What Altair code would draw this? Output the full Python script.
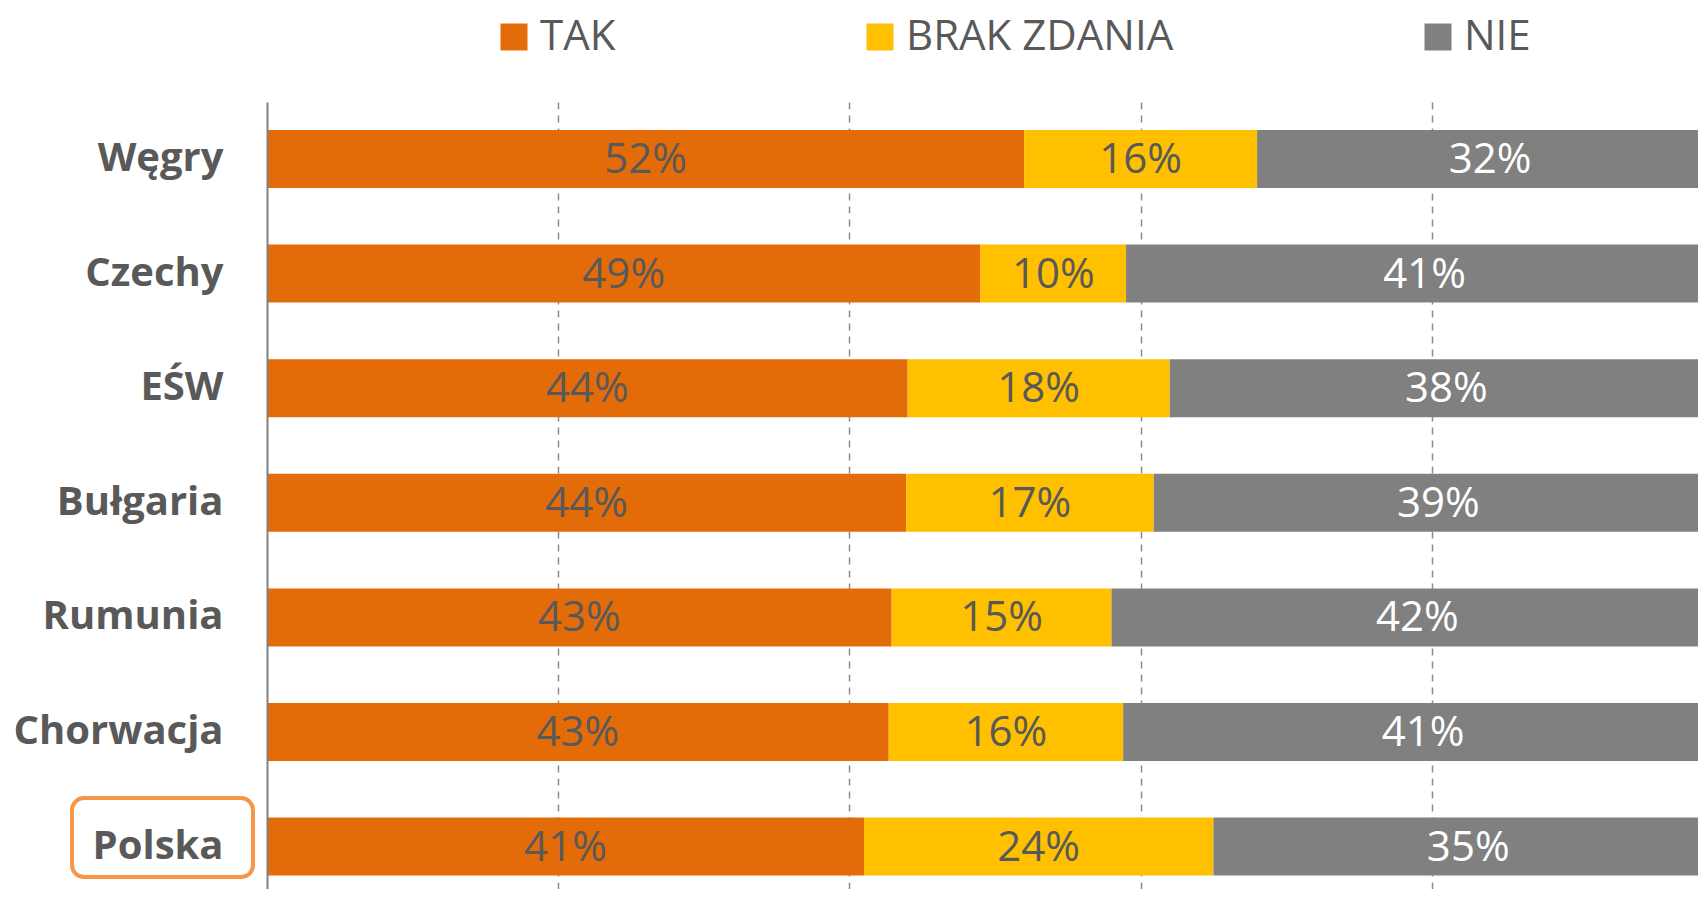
import altair as alt
import pandas as pd

countries = ["Węgry", "Czechy", "EŚW", "Bułgaria", "Rumunia", "Chorwacja", "Polska"]
categories = ["TAK", "BRAK ZDANIA", "NIE"]
tak = [52.0, 49.0, 44.0, 43.9, 42.9, 42.7, 41.0]
brak = [16.0, 10.0, 18.0, 17.0, 15.1, 16.1, 24.0]
nie = [32.0, 41.0, 38.0, 39.1, 42.0, 41.2, 35.0]
colors = ["#E36C09", "#FFC000", "#808080"]
highlight = "Polska"

rows = []
for i, c in enumerate(countries):
    start = 0
    for cat, vals in zip(categories, [tak, brak, nie]):
        v = vals[i]
        rows.append({"country": c, "category": cat, "value": v,
                     "start": start / 100, "end": (start + v) / 100,
                     "mid": (start + v / 2) / 100, "label": f"{round(v)}%",
                     "order": categories.index(cat)})
        start += v
df = pd.DataFrame(rows)

FONT = "Open Sans"
GRAY_TXT = "#595959"

xscale = alt.Scale(domain=[0, 0.9828], nice=False, zero=True)
yscale = alt.Scale(domain=countries, paddingInner=0.494, paddingOuter=0.1805, align=0.676)

y_enc = alt.Y("country:N", sort=countries, scale=yscale, title=None,
              axis=alt.Axis(labelFont=FONT, labelFontWeight="bold", labelFontSize=40,
                            labelColor=GRAY_TXT, labelPadding=44, ticks=False,
                            domainColor="#808080", domainWidth=2, zindex=1, labelLimit=400))

bars = alt.Chart(df).mark_bar(clip=True).encode(
    x=alt.X("start:Q", scale=xscale, title=None,
            axis=alt.Axis(values=[0.2, 0.4, 0.6, 0.8], labels=False, ticks=False, domain=False,
                          grid=True, gridDash=[7, 6], gridColor="#8C8C8C", gridWidth=1.5)),
    x2="end:Q",
    y=y_enc,
    color=alt.Color("category:N", scale=alt.Scale(domain=categories, range=colors),
                    legend=alt.Legend(title=None, orient="none", direction="horizontal",
                                      legendX=226, legendY=-86, padding=0,
                                      symbolType="square", symbolSize=729, symbolStrokeWidth=0,
                                      labelFont=FONT, labelFontSize=42, labelColor=GRAY_TXT,
                                      labelOffset=5, columnPadding=243, labelLimit=600)),
    order="order:Q",
)

texts = alt.Chart(df).mark_text(font=FONT, fontSize=42, baseline="middle", align="center", dy=1).encode(
    x=alt.X("mid:Q", scale=xscale),
    y=alt.Y("country:N", sort=countries, scale=yscale),
    text="label:N",
    color=alt.condition(alt.datum.category == "NIE", alt.value("white"), alt.value(GRAY_TXT)),
)

box = alt.Chart(pd.DataFrame({"country": [highlight]})).mark_rect(
    clip=False, filled=False, fill="transparent", stroke="#F79646", strokeWidth=4,
    cornerRadius=12, height=79, yOffset=-9,
).encode(
    y=alt.Y("country:N", sort=countries, scale=yscale),
    x=alt.value(-195), x2=alt.value(-14),
)

chart = alt.layer(bars, texts, box).properties(
    width=1431, height=787,
    autosize=alt.AutoSizeParams(type="none"),
    padding={"left": 259, "top": 94, "right": 0, "bottom": 0},
).configure_view(stroke=None)

chart.save("out.html", embed_options={"renderer": "svg", "actions": False})
